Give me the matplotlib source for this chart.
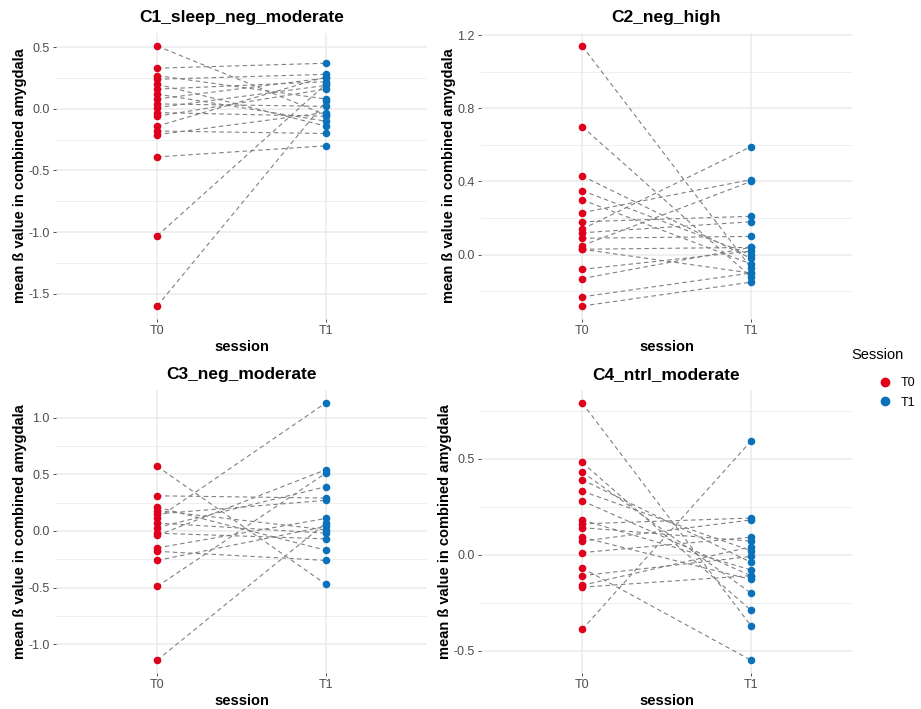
import matplotlib.pyplot as plt
from matplotlib.lines import Line2D
from matplotlib.ticker import MultipleLocator

plt.rcParams['font.family'] = ['Liberation Sans', 'DejaVu Sans']

# paired values per condition (index = subject)
c1_t0 = [0.51, 0.33, 0.27, 0.24, 0.20, 0.16, 0.12, 0.08, 0.04, 0.01, -0.03, -0.06, -0.14, -0.18, -0.21, -0.39, -1.03, -1.60]
c1_t1 = [-0.05, 0.37, 0.08, 0.28, -0.14, 0.22, -0.10, 0.25, 0.02, 0.19, -0.06, 0.16, 0.26, -0.20, -0.03, -0.30, 0.20, 0.06]

c2_t0 = [1.14, 0.70, 0.43, 0.35, 0.30, 0.23, 0.18, 0.14, 0.12, 0.09, 0.05, 0.03, 0.03, -0.08, -0.13, -0.23, -0.28]
c2_t1 = [-0.07, -0.12, -0.02, 0.00, -0.05, 0.41, 0.21, 0.59, 0.18, 0.10, 0.40, -0.10, 0.04, 0.02, 0.04, -0.10, -0.15]

c3_t0 = [0.57, 0.31, 0.21, 0.18, 0.15, 0.11, 0.07, 0.03, -0.02, -0.04, -0.15, -0.18, -0.26, -0.49, -1.14]
c3_t1 = [-0.47, 0.29, -0.17, 0.01, 0.27, 1.13, -0.02, 0.39, -0.07, 0.54, 0.11, -0.26, 0.04, 0.51, 0.07]

c4_t0 = [0.79, 0.48, 0.43, 0.39, 0.33, 0.28, 0.18, 0.16, 0.14, 0.09, 0.07, 0.01, -0.07, -0.11, -0.16, -0.17, -0.39]
c4_t1 = [-0.37, -0.29, -0.20, -0.04, 0.02, -0.11, -0.08, 0.19, 0.07, -0.13, 0.18, 0.09, -0.55, -0.01, 0.04, -0.11, 0.59]

titles = ['C1_sleep_neg_moderate', 'C2_neg_high', 'C3_neg_moderate', 'C4_ntrl_moderate']
sessions = ['T0', 'T1']
major_steps = [0.5, 0.4, 0.5, 0.5]

RED = '#E0001B'
BLUE = '#0A72BA'
GRID = '#EBEBEB'

W, H = 921, 709
fig = plt.figure(figsize=(W / 100, H / 100), dpi=100)

# panel boxes in pixels: left, top, right, bottom
boxes = [(56, 33, 427, 319), (481, 33, 852, 319), (56, 390, 427, 673), (481, 390, 852, 673)]
data = [(c1_t0, c1_t1), (c2_t0, c2_t1), (c3_t0, c3_t1), (c4_t0, c4_t1)]

for (l, t, r, b), (t0, t1), title, step in zip(boxes, data, titles, major_steps):
    ax = fig.add_axes([l / W, 1 - b / H, (r - l) / W, (b - t) / H])
    for a, c in zip(t0, t1):
        ax.plot([1, 2], [a, c], ls=(0, (4, 3)), color='#808080', lw=0.8, zorder=2)
    ax.scatter([1] * len(t0), t0, s=30, color=RED, zorder=3, linewidths=0)
    ax.scatter([2] * len(t1), t1, s=30, color=BLUE, zorder=3, linewidths=0)

    lo = min(t0 + t1)
    hi = max(t0 + t1)
    pad = (hi - lo) * 0.05
    ax.set_ylim(lo - pad, hi + pad)
    ax.set_xlim(0.4, 2.6)
    ax.set_xticks([1, 2])
    ax.set_xticklabels(sessions)
    ax.yaxis.set_major_locator(MultipleLocator(step))
    ax.yaxis.set_minor_locator(MultipleLocator(step / 2))
    ax.yaxis.set_major_formatter(plt.FuncFormatter(lambda v, p: f'{v:.1f}'.replace('-0.0', '0.0')))

    ax.grid(True, which='major', color=GRID, lw=1.1, zorder=0)
    ax.grid(True, which='minor', axis='y', color=GRID, lw=0.55, zorder=0)
    ax.set_axisbelow(True)
    for s in ax.spines.values():
        s.set_visible(False)
    ax.tick_params(axis='both', which='major', length=2.5, width=0.6, color='#333333',
                   labelsize=9, labelcolor='#4D4D4D', pad=2)
    ax.tick_params(which='minor', length=0)

    ax.set_title(title, fontsize=12.5, fontweight='bold', pad=8)
    ax.set_xlabel('session', fontsize=10.5, fontweight='bold', labelpad=2)
    ax.set_ylabel('mean ß value in combined amygdala', fontsize=10.5, fontweight='bold', labelpad=1)

# legend: title sits left of the keys, as in the source
fig.text(851 / W, 1 - 355 / H, 'Session', fontsize=10.5, va='center', ha='left')
handles = [Line2D([], [], marker='o', ls='', color=RED, markersize=6),
           Line2D([], [], marker='o', ls='', color=BLUE, markersize=6)]
fig.legend(handles, sessions, loc='upper left',
           bbox_to_anchor=(866 / W, 1 - 371 / H), frameon=False,
           fontsize=9, handletextpad=0.3, labelspacing=0.6, borderpad=0)

fig.savefig('out.png', dpi=100)
